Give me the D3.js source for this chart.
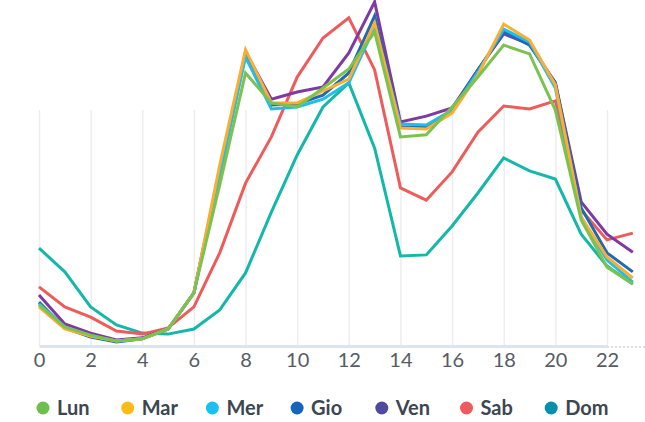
<!DOCTYPE html>
<html>
<head>
<meta charset="utf-8">
<script src="https://cdn.jsdelivr.net/npm/d3@7"></script>
<style>
  html, body { margin: 0; padding: 0; background: #fff; }
  svg { display: block; font-family: Lato, sans-serif; }
</style>
</head>
<body>
<svg id="chart" width="645" height="422"></svg>
<script>
const hours = d3.range(0, 24);
const tickHours = [0, 2, 4, 6, 8, 10, 12, 14, 16, 18, 20, 22];
const days = ['Lun', 'Mar', 'Mer', 'Gio', 'Ven', 'Sab', 'Dom'];

const lun = [12.1, 5.6, 3.2, 1.5, 2.1, 5.0, 15.6, 47.4, 80.3, 71.5, 70.3, 75.9, 81.5, 92.4, 61.5, 62.1, 70.3, 79.1, 88.5, 85.9, 69.4, 37.1, 23.2, 18.2];
const mar = [11.5, 5.0, 2.9, 1.5, 2.1, 5.0, 15.6, 53.2, 87.1, 71.5, 71.5, 75.0, 78.5, 95.0, 64.1, 63.8, 68.5, 79.7, 94.7, 90.0, 76.8, 37.9, 26.2, 20.0];
const mer = [12.4, 5.6, 2.9, 1.5, 2.1, 5.0, 15.6, 50.3, 85.0, 69.7, 70.3, 72.6, 77.4, 93.8, 65.3, 65.0, 69.4, 80.6, 93.2, 89.4, 75.9, 37.9, 25.3, 18.8];
const gio = [12.9, 5.3, 2.6, 1.2, 2.1, 5.0, 15.6, 51.2, 85.9, 70.9, 71.2, 73.8, 80.3, 97.1, 64.4, 64.4, 69.4, 81.2, 92.4, 88.5, 77.4, 40.6, 27.4, 21.8];
const ven = [15.0, 6.5, 3.8, 1.8, 2.4, 5.0, 15.6, 51.8, 86.5, 72.6, 74.7, 76.2, 86.2, 101.2, 65.9, 67.6, 70.0, 81.2, 91.8, 88.8, 77.4, 42.4, 32.9, 27.6];
const sab = [17.4, 11.5, 8.5, 4.4, 3.5, 5.3, 11.5, 27.4, 47.9, 61.5, 79.1, 90.6, 96.5, 81.2, 46.5, 42.9, 51.2, 62.9, 70.6, 69.7, 72.1, 40.0, 31.2, 33.2];
const dom = [28.8, 21.8, 11.5, 6.2, 3.8, 3.5, 5.0, 10.6, 21.5, 39.4, 56.2, 70.3, 77.4, 58.2, 26.5, 26.8, 35.3, 45.0, 55.3, 51.5, 49.1, 32.9, 23.5, 18.2];

const seriesValues = [lun, mar, mer, gio, ven, sab, dom];
const lineColors = ['#7cc251', '#fbae33', '#22bde6', '#1e6ab5', '#7e3aa2', '#ee5b5b', '#14b7aa'];
const dotColors = ['#6dbe4f', '#fdbb16', '#19c0f0', '#1565bd', '#4f4a9f', '#ee5a5e', '#0490ad'];

const svg = d3.select('#chart');
const baseY = 346;

const x = d3.scaleLinear().domain([0, 22]).range([39, 607]);
const y = d3.scaleLinear().domain([0, 100]).range([baseY, 6]);

// vertical grid
svg.append('g')
  .attr('transform', `translate(0,${baseY})`)
  .call(d3.axisBottom(x).tickValues(tickHours).tickSize(-(baseY - 110)).tickFormat(''))
  .call(g => g.select('.domain').remove())
  .call(g => g.selectAll('.tick line').attr('stroke', '#ededf0').attr('stroke-width', 1.5));

// dotted tail of the baseline
svg.append('line')
  .attr('x1', x(22)).attr('x2', 645)
  .attr('y1', baseY + 1).attr('y2', baseY + 1)
  .attr('stroke', '#cfd3d8').attr('stroke-width', 1.5)
  .attr('stroke-dasharray', '2,2');

// x axis
svg.append('g')
  .attr('transform', `translate(0,${baseY})`)
  .call(d3.axisBottom(x).tickValues(tickHours).tickSize(0).tickPadding(7))
  .call(g => g.select('.domain').attr('stroke', '#dde4ef').attr('stroke-width', 3))
  .call(g => g.selectAll('.tick text')
    .attr('fill', '#555c63')
    .attr('font-size', 20)
    .attr('font-family', 'Lato, sans-serif'));

const line = d3.line()
  .x((d, i) => x(hours[i]))
  .y(d => y(d));

// first series painted last so it sits on top
const order = d3.range(seriesValues.length).reverse();
svg.append('g')
  .selectAll('path')
  .data(order)
  .join('path')
  .attr('d', i => line(seriesValues[i]))
  .attr('fill', 'none')
  .attr('stroke', i => lineColors[i])
  .attr('stroke-width', 3);

// legend
const legend = svg.append('g').attr('transform', 'translate(43,408)');
const item = legend.selectAll('g')
  .data(days)
  .join('g')
  .attr('transform', (d, i) => `translate(${i * 84.7},0)`);

item.append('circle')
  .attr('r', 6.5)
  .attr('fill', (d, i) => dotColors[i]);

item.append('text')
  .attr('x', 14)
  .attr('dy', '0.35em')
  .attr('fill', '#3c4650')
  .attr('font-size', 20)
  .attr('font-weight', 700)
  .text(d => d);
</script>
</body>
</html>
